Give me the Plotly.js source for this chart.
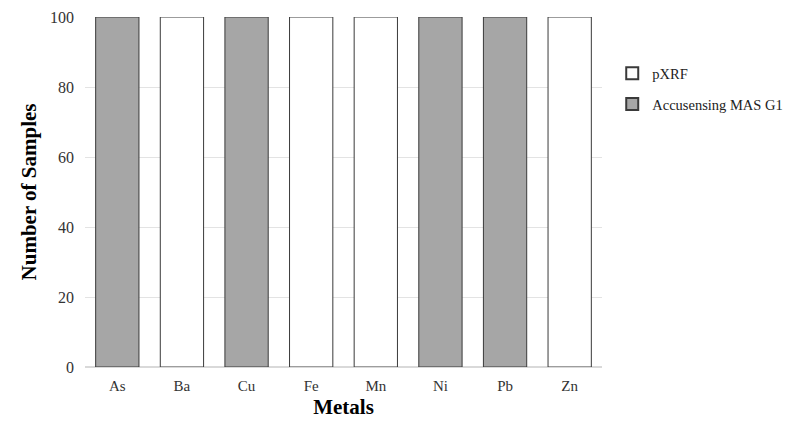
<!DOCTYPE html>
<html>
<head>
<meta charset="utf-8">
<script src="https://cdn.plot.ly/plotly-3.0.1.min.js"></script>
<style>
  body { margin: 0; background: #fff; }
  #plot { width: 791px; height: 427px; }
</style>
</head>
<body>
<div id="plot"></div>
<script>
// categories on the x axis
let metals = ["As", "Ba", "Cu", "Fe", "Mn", "Ni", "Pb", "Zn"];

// number of samples per metal, by method (null = no bar)
let pxrfSamples = [null, 100, null, 100, 100, null, null, 100];
let accuSamples = [100, null, 100, null, null, 100, 100, null];

let yTicks = [0, 20, 40, 60, 80, 100];

let pxrfTrace = {
    x: metals,
    y: pxrfSamples,
    name: "pXRF",
    legendgroup: "pxrf",
    type: "bar",
    marker: { color: "#ffffff", line: { color: "#3a3a3a", width: 1 } }
};

let accuTrace = {
    x: metals,
    y: accuSamples,
    name: "Accusensing MAS G1",
    legendgroup: "accu",
    type: "bar",
    marker: { color: "#a6a6a6", line: { color: "#3a3a3a", width: 1 } }
};

let data = [pxrfTrace, accuTrace];

let layout = {
    width: 791,
    height: 427,
    barmode: "overlay",
    bargap: 0.33,
    font: { family: "Liberation Serif, Times New Roman, serif", color: "#222" },
    paper_bgcolor: "#fff",
    plot_bgcolor: "#fff",
    margin: { l: 85, r: 189, t: 17, b: 60, autoexpand: false },
    showlegend: true,
    legend: {
        xref: "container", yref: "container",
        x: 0.774, y: 0.866, xanchor: "left", yanchor: "top",
        font: { size: 14.5, color: "#222" },
        tracegroupgap: 9,
        itemsizing: "constant"
    },
    xaxis: {
        title: { text: "Metals", font: { size: 21, color: "#000", weight: "bold" }, standoff: 6 },
        tickfont: { size: 15, color: "#333" },
        ticklabelstandoff: 8,
        showline: false,
        ticks: "",
        fixedrange: true
    },
    yaxis: {
        title: { text: "Number of Samples", font: { size: 21, color: "#000", weight: "bold" }, standoff: 7 },
        range: [0, 100],
        tickvals: yTicks,
        tickfont: { size: 16, color: "#333" },
        ticklabelstandoff: 10,
        gridcolor: "#e3e3e3",
        zeroline: true,
        zerolinecolor: "#d9d9d9",
        zerolinewidth: 1.5,
        ticks: "",
        fixedrange: true
    }
};

Plotly.newPlot("plot", data, layout, { displayModeBar: false, staticPlot: true });
</script>
</body>
</html>
